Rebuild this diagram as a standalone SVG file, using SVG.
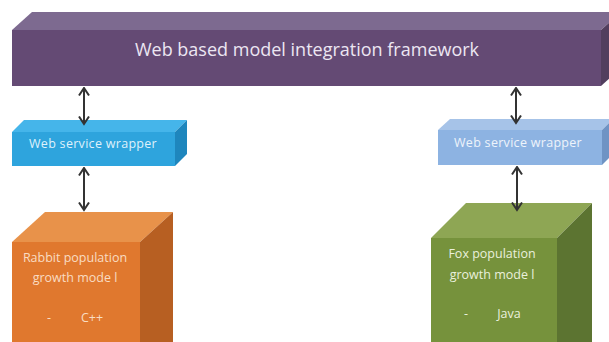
<svg xmlns="http://www.w3.org/2000/svg" width="609" height="342" viewBox="0 0 609 342">
  <style>
    text { font-family: "Open Sans", "Liberation Sans", sans-serif; text-anchor: middle; }
    .title { font-size: 18px; fill: #ece6f2; }
    .wrap { font-size: 12.5px; letter-spacing: 0.3px; }
    .model { font-size: 12.5px; }
    .conn { stroke: #333333; stroke-width: 2; fill: none; marker-start: url(#head); marker-end: url(#head); }
  </style>
  <defs>
    <marker id="head" viewBox="0 0 10 12" refX="8.5" refY="6" markerWidth="10" markerHeight="12" orient="auto-start-reverse" markerUnits="userSpaceOnUse">
      <path d="M1,1 L8.5,6 L1,11" fill="none" stroke="#333333" stroke-width="2"/>
    </marker>
  </defs>
  <rect width="609" height="342" fill="#ffffff"/>

  <!-- integration framework bar -->
  <g id="framework">
    <polygon points="12,30 32,12 621,12 601,30" fill="#7d6a90"/>
    <polygon points="601,30 621,12 621,68 601,86" fill="#523e5e"/>
    <rect x="12" y="30" width="589" height="56" fill="#644a74"/>
    <text class="title" x="307" y="56">Web based model integration framework</text>
  </g>

  <!-- left wrapper -->
  <g id="wrapper-left">
    <polygon points="12,132 24,120 187,120 175,132" fill="#45b5ea"/>
    <polygon points="175,132 187,120 187,154 175,166" fill="#1e86bd"/>
    <rect x="12" y="132" width="163" height="34" fill="#2ea4dd"/>
    <text class="wrap" x="93" y="148" fill="#dff1fb">Web service wrapper</text>
  </g>

  <!-- right wrapper -->
  <g id="wrapper-right">
    <polygon points="438,130 450,119 613,119 602,130" fill="#a6c3e8"/>
    <polygon points="602,130 613,119 613,154 602,165" fill="#6f93c4"/>
    <rect x="438" y="130" width="164" height="35" fill="#8db3e2"/>
    <text class="wrap" x="518" y="147" fill="#eef4fb">Web service wrapper</text>
  </g>

  <!-- rabbit model cube -->
  <g id="rabbit-model">
    <polygon points="12,242 45,212 173,212 140,242" fill="#e8924a"/>
    <polygon points="140,242 173,212 173,342 140,342" fill="#b75f22"/>
    <rect x="12" y="242" width="128" height="100" fill="#e0782e"/>
    <text class="model" x="75" y="262" fill="#f9dcc2">Rabbit population</text>
    <text class="model" x="75" y="282" fill="#f9dcc2">growth mode l</text>
    <text class="model" x="49" y="322" fill="#f9dcc2">-</text>
    <text class="model" x="92" y="322" fill="#f9dcc2">C++</text>
  </g>

  <!-- fox model cube -->
  <g id="fox-model">
    <polygon points="431,238 466,203 592,203 557,238" fill="#8ea654"/>
    <polygon points="557,238 592,203 592,342 557,342" fill="#5c7431"/>
    <rect x="431" y="238" width="126" height="104" fill="#76923c"/>
    <text class="model" x="492" y="258" fill="#eaf0dc">Fox population</text>
    <text class="model" x="492" y="279" fill="#eaf0dc">growth mode l</text>
    <text class="model" x="466" y="318" fill="#eaf0dc">-</text>
    <text class="model" x="509" y="318" fill="#eaf0dc">Java</text>
  </g>

  <!-- connectors -->
  <g id="connectors">
    <line class="conn" x1="84" y1="88" x2="84" y2="124"/>
    <line class="conn" x1="516" y1="88" x2="516" y2="123"/>
    <line class="conn" x1="84" y1="168" x2="84" y2="210"/>
    <line class="conn" x1="517" y1="167" x2="517" y2="210"/>
  </g>
</svg>
